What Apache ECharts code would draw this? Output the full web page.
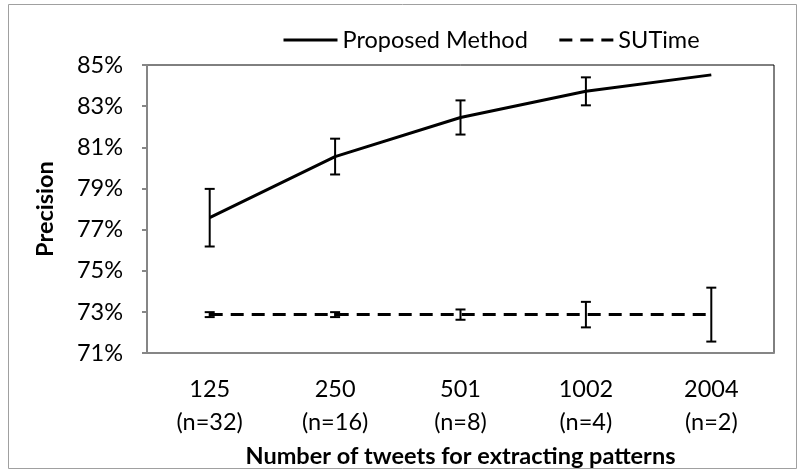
<!DOCTYPE html>
<html>
<head>
<meta charset="utf-8">
<script src="https://cdn.jsdelivr.net/npm/echarts@6/dist/echarts.min.js"></script>
<style>html,body{margin:0;padding:0;background:#fff}#c{width:805px;height:473px}</style>
</head>
<body>
<div id="c"></div>
<script>
const categories = ['125\n(n=32)', '250\n(n=16)', '501\n(n=8)', '1002\n(n=4)', '2004\n(n=2)'];
const proposedMean = [77.58, 80.55, 82.45, 83.72, 84.52];
const proposedErr = [1.40, 0.87, 0.83, 0.68, 0];
const sutimeMean = [72.87, 72.87, 72.87, 72.87, 72.87];
const sutimeErr = [0.12, 0.12, 0.25, 0.62, 1.31];
const yTicks = { min: 71, max: 85, interval: 2 };

const FONT = 'Lato';
const FS = 23.5;
function errData(mean, err) {
  const out = [];
  mean.forEach((m, i) => { if (err[i] > 0) out.push([i, m - err[i], m + err[i]]); });
  return out;
}
function errRender(params, api) {
  const i = api.value(0);
  const lo = api.coord([i, api.value(1)]);
  const hi = api.coord([i, api.value(2)]);
  const w = 5;
  const st = { stroke: '#000', lineWidth: 2 };
  return { type: 'group', children: [
    { type: 'line', shape: { x1: lo[0], y1: lo[1], x2: hi[0], y2: hi[1] }, style: st },
    { type: 'line', shape: { x1: lo[0] - w, y1: lo[1], x2: lo[0] + w, y2: lo[1] }, style: st },
    { type: 'line', shape: { x1: hi[0] - w, y1: hi[1], x2: hi[0] + w, y2: hi[1] }, style: st }
  ]};
}
const chart = echarts.init(document.getElementById('c'), null, { renderer: 'canvas' });
chart.setOption({
  animation: false,
  backgroundColor: '#fff',
  textStyle: { fontFamily: FONT },
  graphic: [{ type: 'rect', shape: { x: 8.5, y: 4.5, width: 788, height: 464 }, style: { fill: 'none', stroke: '#a0a0a0', lineWidth: 1 }, silent: true }],
  legend: {
    data: ['Proposed Method', 'SUTime'],
    left: 277, top: 23, itemWidth: 54, itemHeight: 14, itemGap: 30,
    itemStyle: { opacity: 0 },
    lineStyle: { width: 3 },
    textStyle: { fontFamily: FONT, fontSize: FS, color: '#000' }
  },
  grid: { left: 147, right: 31, top: 65, bottom: 106, show: true, borderColor: '#000', borderWidth: 1, containLabel: false },
  xAxis: {
    type: 'category', data: categories, boundaryGap: true,
    name: 'Number of tweets for extracting patterns', nameLocation: 'middle', nameGap: 79,
    nameTextStyle: { fontFamily: FONT, fontSize: FS, fontWeight: 'bold', color: '#000' },
    axisLine: { lineStyle: { color: '#868686', width: 2 } },
    axisTick: { show: false },
    axisLabel: { fontFamily: FONT, fontSize: FS, color: '#000', lineHeight: 33, margin: 20 }
  },
  yAxis: {
    type: 'value', min: yTicks.min, max: yTicks.max, interval: yTicks.interval,
    name: 'Precision', nameLocation: 'middle', nameGap: 90,
    nameTextStyle: { fontFamily: FONT, fontSize: FS, fontWeight: 'bold', color: '#000' },
    axisLine: { show: true, lineStyle: { color: '#868686', width: 2 } },
    axisTick: { show: true, length: 5, lineStyle: { color: '#868686', width: 2 } },
    splitLine: { show: false },
    axisLabel: { fontFamily: FONT, fontSize: FS, color: '#000', formatter: '{value}%', margin: 24 }
  },
  series: [
    { name: 'Proposed Method', type: 'line', data: proposedMean, symbol: 'none', lineStyle: { color: '#000', width: 3 }, itemStyle: { color: '#000' }, z: 3 },
    { name: 'SUTime', type: 'line', data: sutimeMean, symbol: 'none', lineStyle: { color: '#000', width: 3, type: [13, 8] }, itemStyle: { color: '#000' }, z: 3 },
    { name: 'err1', type: 'custom', renderItem: errRender, data: errData(proposedMean, proposedErr), z: 4 },
    { name: 'err2', type: 'custom', renderItem: errRender, data: errData(sutimeMean, sutimeErr), z: 4 }
  ]
});
</script>
</body>
</html>
